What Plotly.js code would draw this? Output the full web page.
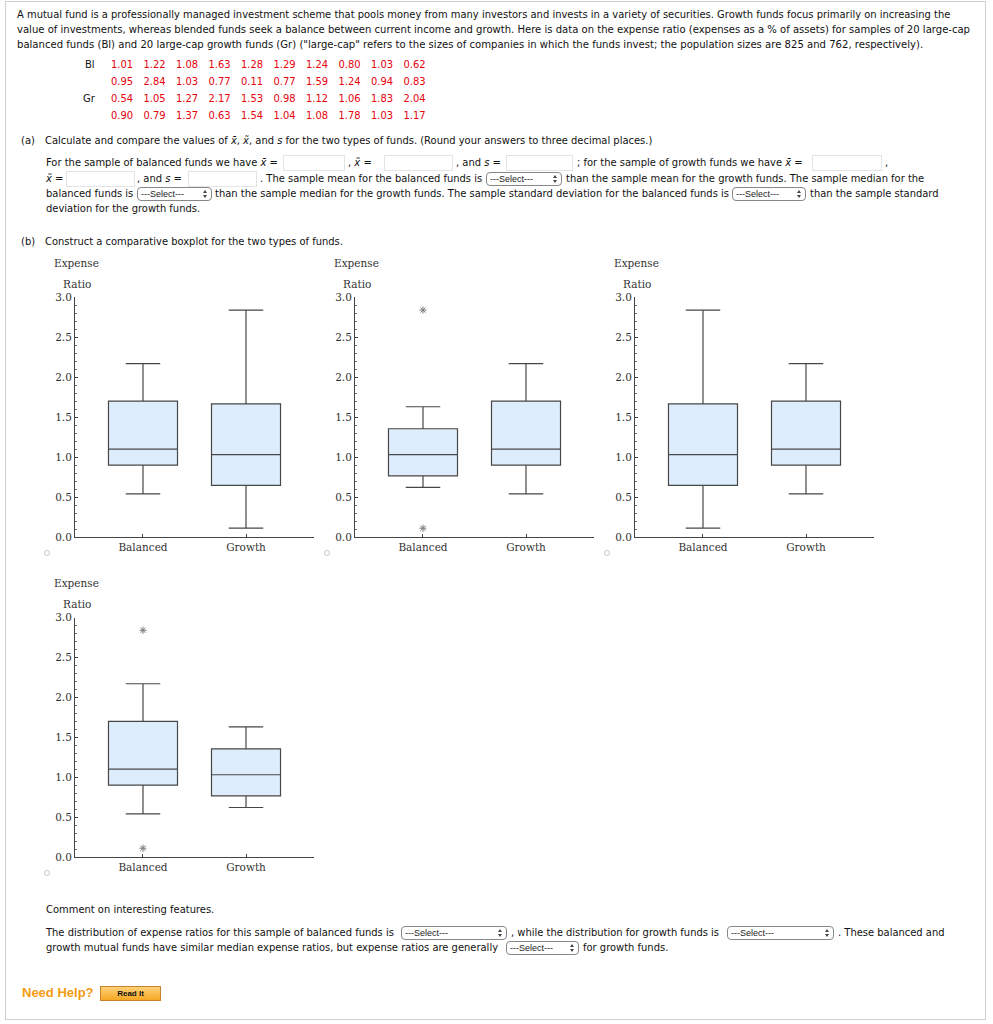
<!DOCTYPE html>
<html><head><meta charset="utf-8">
<script src="https://cdn.plot.ly/plotly-3.0.1.min.js"></script>
<style>
html,body{margin:0;padding:0;background:#fff;}
#page{position:relative;width:993px;height:1024px;overflow:hidden;font-family:"DejaVu Sans",Verdana,sans-serif;color:#111;}
#frame{position:absolute;left:5px;top:1px;width:981px;height:1019px;border:1px solid #cfcfcf;box-sizing:border-box;}
#chart{position:absolute;left:0;top:0;width:993px;height:1024px;}
.t{position:absolute;white-space:nowrap;line-height:14px;height:14px;z-index:2;}
.red{color:#e8000b;}
.inp{position:absolute;height:16px;border:1px solid #e4e4e4;background:#fff;box-sizing:border-box;z-index:2;}
.sel{position:absolute;height:14px;border:1px solid #888;border-radius:4px;background:#fff;box-sizing:border-box;z-index:2;
  font-family:"Liberation Sans",Arial,sans-serif;font-size:9px;line-height:12px;color:#222;padding-left:3px;white-space:nowrap;}
.sel .up{position:absolute;right:4px;top:2px;border-left:2px solid transparent;border-right:2px solid transparent;border-bottom:3px solid #444;}
.sel .dn{position:absolute;right:4px;top:7px;border-left:2px solid transparent;border-right:2px solid transparent;border-top:3px solid #444;}
.radio{position:absolute;width:6px;height:6px;border:1px solid #c8c8c8;border-radius:50%;box-sizing:border-box;z-index:2;}
#help{position:absolute;left:22px;top:985px;font-family:"Liberation Sans",Arial,sans-serif;font-size:13px;font-weight:bold;color:#f39c12;z-index:2;white-space:nowrap;line-height:16px;}
#readit{position:absolute;left:100px;top:986px;width:61px;height:15px;box-sizing:border-box;border:1px solid #c9822b;
  background:linear-gradient(#ffd27a,#f7a823);font-family:"Liberation Sans",Arial,sans-serif;font-weight:bold;font-size:8px;line-height:13px;text-align:center;color:#111;z-index:2;}
</style></head>
<body>
<div id="page">
  <div id="frame"></div>
  <div id="chart"></div>
</div>
<script>
// ---------- data ----------
const blValues = [1.01,1.22,1.08,1.63,1.28,1.29,1.24,0.80,1.03,0.62,0.95,2.84,1.03,0.77,0.11,0.77,1.59,1.24,0.94,0.83];
const grValues = [0.54,1.05,1.27,2.17,1.53,0.98,1.12,1.06,1.83,2.04,0.90,0.79,1.37,0.63,1.54,1.04,1.08,1.78,1.03,1.17];
const categories = ['Balanced','Growth'];
// five-number summaries as drawn: [lower whisker, Q1, median, Q3, upper whisker]
const boxWide   = [0.11, 0.645, 1.03, 1.665, 2.84];
const boxNarrow = [0.62, 0.765, 1.03, 1.355, 1.63];
const boxGr     = [0.54, 0.90, 1.10, 1.70, 2.17];
const outlierValues = [2.84, 0.11];
const yTickVals = [0, 0.5, 1.0, 1.5, 2.0, 2.5, 3.0];

// ---------- page text ----------
const page = document.getElementById('page');
function txt(x, y, html, cls, w){
  const d = document.createElement('div');
  d.className = 't' + (cls ? ' ' + cls : '');
  d.style.left = x + 'px'; d.style.top = (y - 7) + 'px';
  d.innerHTML = html;
  if (w) d.dataset.w = w;
  page.appendChild(d); return d;
}
function inp(x, y, w){
  const d = document.createElement('div'); d.className = 'inp';
  d.style.left = x + 'px'; d.style.top = (y - 8) + 'px'; d.style.width = w + 'px';
  page.appendChild(d);
}
function sel(x, y, w){
  const d = document.createElement('div'); d.className = 'sel';
  d.style.left = x + 'px'; d.style.top = (y - 7) + 'px'; d.style.width = w + 'px';
  d.innerHTML = '---Select---<span class="up"></span><span class="dn"></span>';
  page.appendChild(d);
}
function radio(x, y){
  const d = document.createElement('div'); d.className = 'radio';
  d.style.left = (x - 3) + 'px'; d.style.top = (y - 3) + 'px';
  page.appendChild(d);
}
const xb = '<i>x̄</i>', xt = '<i>x̃</i>', s = '<i>s</i>';
const L1 = txt(17, 15, 'A mutual fund is a professionally managed investment scheme that pools money from many investors and invests in a variety of securities. Growth funds focus primarily on increasing the', '', 934);
txt(17, 30, 'value of investments, whereas blended funds seek a balance between current income and growth. Here is data on the expense ratio (expenses as a % of assets) for samples of 20 large-cap', '', 955);
txt(17, 45, 'balanced funds (Bl) and 20 large-cap growth funds (Gr) ("large-cap" refers to the sizes of companies in which the funds invest; the population sizes are 825 and 762, respectively).', '', 907);

txt(85, 65, 'Bl'); txt(83, 99, 'Gr');
[[blValues, 65], [grValues, 99]].forEach(([vals, y0]) => {
  vals.forEach((v, i) => {
    const row = Math.floor(i / 10), col = i % 10;
    txt(111 + col * 32.5, y0 + row * 17, v.toFixed(2), 'red');
  });
});

txt(21, 141, '(a)');
txt(45, 141, 'Calculate and compare the values of ' + xb + ', ' + xt + ', and ' + s + ' for the two types of funds. (Round your answers to three decimal places.)');
txt(46, 163, 'For the sample of balanced funds we have ' + xb + ' =');
inp(283, 163, 62); txt(348, 163, ', ' + xt + ' =');
inp(384, 163, 69); txt(456, 163, ', and ' + s + ' =');
inp(506, 163, 67); txt(577, 163, '; for the sample of growth funds we have ' + xb + ' =');
inp(812, 163, 70); txt(885, 163, ',');
txt(46, 179, xt + ' ='); inp(66, 179, 69);
txt(137, 179, ', and ' + s + ' ='); inp(188, 179, 69);
txt(260, 179, '. The sample mean for the balanced funds is'); sel(486, 179, 76);
txt(566, 179, 'than the sample mean for the growth funds. The sample median for the');
txt(46, 194, 'balanced funds is'); sel(137, 194, 75);
txt(215, 194, 'than the sample median for the growth funds. The sample standard deviation for the balanced funds is'); sel(732, 194, 74);
txt(810, 194, 'than the sample standard');
txt(46, 209, 'deviation for the growth funds.');

txt(21, 242, '(b)');
txt(45, 242, 'Construct a comparative boxplot for the two types of funds.');

txt(46, 910, 'Comment on interesting features.');
txt(46, 933, 'The distribution of expense ratios for this sample of balanced funds is'); sel(401, 933, 106);
txt(511, 933, ', while the distribution for growth funds is'); sel(727, 933, 107);
txt(838, 933, '. These balanced and');
txt(46, 948, 'growth mutual funds have similar median expense ratios, but expense ratios are generally'); sel(506, 948, 73);
txt(583, 948, 'for growth funds.');

[[47,553],[327,553],[607,553],[47,873]].forEach(p => radio(p[0], p[1]));

const help = document.createElement('div'); help.id = 'help'; help.textContent = 'Need Help?'; page.appendChild(help);
const ri = document.createElement('div'); ri.id = 'readit'; ri.textContent = 'Read It'; page.appendChild(ri);

// fit font size: base from first paragraph line
function fit(){
  const probe = L1; probe.style.fontSize = '100px';
  const base = 100 * (+probe.dataset.w) / probe.scrollWidth;
  document.querySelectorAll('.t').forEach(el => {
    if (el.dataset.w){
      el.style.fontSize = '100px';
      el.style.fontSize = (100 * (+el.dataset.w) / el.scrollWidth) + 'px';
    } else el.style.fontSize = base + 'px';
  });
}
fit();

// ---------- boxplots ----------
const W = 993, H = 1024;
const panels = [
  {frame:[75,314,297.3,537],   boxes:[boxGr, boxWide],     out:[null, null]},
  {frame:[355,594,297.3,537],  boxes:[boxNarrow, boxGr],   out:[outlierValues, null]},
  {frame:[635,874,297.3,537],  boxes:[boxWide, boxGr],     out:[null, null]},
  {frame:[75,314,617.5,857],   boxes:[boxGr, boxNarrow],   out:[outlierValues, null]}
];
const serif = {family:'"DejaVu Serif", serif', size:10.5, color:'#333'};
const traces = [], layout = {
  width:W, height:H, margin:{l:0,r:0,t:0,b:0}, showlegend:false, hovermode:false,
  paper_bgcolor:'rgba(0,0,0,0)', plot_bgcolor:'rgba(0,0,0,0)', annotations:[]
};
panels.forEach((p, i) => {
  const n = i + 1, xa = 'x' + (n === 1 ? '' : n), ya = 'y' + (n === 1 ? '' : n);
  const [x0, x1, y0, y1] = p.frame;
  p.boxes.forEach((b, j) => {
    traces.push({
      type:'box', x:[categories[j]], lowerfence:[b[0]], q1:[b[1]], median:[b[2]], q3:[b[3]], upperfence:[b[4]],
      xaxis:xa, yaxis:ya, fillcolor:'#ddedfc', line:{color:'#474747', width:1.2},
      width:0.67, whiskerwidth:0.5, boxpoints:false
    });
    if (p.out[j]) traces.push({
      type:'scatter', mode:'markers', x:p.out[j].map(() => categories[j]), y:p.out[j],
      xaxis:xa, yaxis:ya, marker:{symbol:'asterisk-open', size:6, color:'#7a7a7a', line:{color:'#7a7a7a', width:1}}
    });
  });
  layout['xaxis' + (n === 1 ? '' : n)] = {
    domain:[x0 / W, x1 / W], anchor:ya, type:'category', categoryarray:categories, range:[-0.66, 1.66],
    showline:true, linecolor:'#444', linewidth:1, ticks:'inside', ticklen:3, tickcolor:'#444',
    showgrid:false, zeroline:false, tickfont:serif, fixedrange:true
  };
  layout['yaxis' + (n === 1 ? '' : n)] = {
    domain:[1 - y1 / H, 1 - y0 / H], anchor:xa, range:[0, 3], tickvals:yTickVals, tickformat:'.1f',
    showline:true, linecolor:'#444', linewidth:1, ticks:'inside', ticklen:3, tickcolor:'#444',
    minor:{dtick:0.1, ticks:'inside', ticklen:2, tickcolor:'#777', showgrid:false},
    showgrid:false, zeroline:false, tickfont:serif, fixedrange:true
  };
  layout.annotations.push(
    {xref:'paper', yref:'paper', x:(x0 - 23) / W, y:1 - (y0 - 34.5) / H, xanchor:'left', yanchor:'middle',
     text:'Expense', showarrow:false, font:serif},
    {xref:'paper', yref:'paper', x:(x0 - 14) / W, y:1 - (y0 - 13.5) / H, xanchor:'left', yanchor:'middle',
     text:'Ratio', showarrow:false, font:serif}
  );
});
Plotly.newPlot('chart', traces, layout, {staticPlot:true, displayModeBar:false});
</script>
</body></html>
